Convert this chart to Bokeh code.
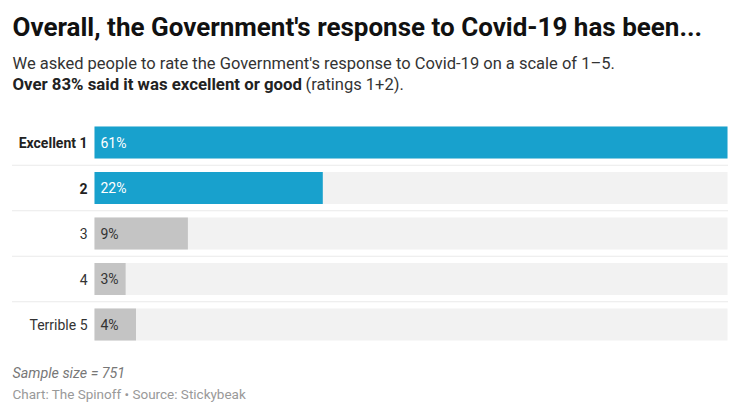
from bokeh.plotting import figure
from bokeh.models import Range1d, ColumnDataSource
from bokeh.core.properties import value
from bokeh.embed import file_html
from bokeh.resources import INLINE

# ---- data ----
categories = ["Excellent 1", "2", "3", "4", "Terrible 5"]
percent = [61, 22, 9, 3, 4]
highlight = [True, True, False, False, False]
title = "Overall, the Government's response to Covid-19 has been..."
subtitle1 = "We asked people to rate the Government's response to Covid-19 on a scale of 1\u20135."
subtitle2_bold = "Over 83% said it was excellent or good"
subtitle2_rest = "(ratings 1+2)."
note = "Sample size = 751"
credit = "Chart: The Spinoff \u2022 Source: Stickybeak"

# ---- layout ----
W, H = 740, 414
left_px, right_px = 94, 727          # bar zero / full-scale positions
row0_px, row_step = 142, 45.5        # first row centre, row spacing
vmax = max(percent)
sx = (right_px - left_px) / vmax
x0 = -left_px / sx
x1 = vmax + (W - right_px) / sx
y_top = 1 - row0_px / row_step
y_bot = 1 + (H - row0_px) / row_step

p = figure(width=W, height=H, output_backend="svg", toolbar_location=None,
           x_range=Range1d(x0, x1), y_range=Range1d(y_bot, y_top),
           min_border=0, outline_line_color=None)
p.axis.visible = False
p.grid.visible = False
p.background_fill_color = "white"
p.border_fill_color = "white"

n = len(categories)
rows = list(range(1, n + 1))
src = ColumnDataSource(dict(
    y=rows, v=percent, cat=categories,
    lab=[f"{v}%" for v in percent],
    color=["#18A1CD" if h else "#C4C4C4" for h in highlight],
    tcolor=["white" if h else "#333333" for h in highlight],
    lcolor=["#222222" if h else "#333333" for h in highlight],
    lstyle=["bold" if h else "normal" for h in highlight],
    full=[vmax] * n,
))

# background tracks
p.hbar(y="y", left=0, right="full", height=0.70, source=src,
       fill_color="#F2F2F2", line_color=None)
# bars
p.hbar(y="y", left=0, right="v", height=0.70, source=src,
       fill_color="color", line_color=None)

# separators
seps = [r + 0.5 for r in rows[:-1]]
p.segment(x0=[x0 + 12 / sx] * len(seps), x1=[vmax] * len(seps), y0=seps, y1=seps,
          line_color="#D4D4D4", line_width=1, line_dash="1 1")

# value labels
p.text(x=0, y="y", text="lab", source=src, x_offset=6,
       text_font=value("Roboto"), text_font_size="14px",
       text_color="tcolor", text_baseline="middle", text_align="left")

# category labels
p.text(x=0, y="y", text="cat", source=src, x_offset=-7,
       text_font=value("Roboto"), text_font_size="14px",
       text_color="lcolor", text_font_style="lstyle",
       text_baseline="middle", text_align="right")

# titles and footer (anchored to top-left / bottom-left corner of the canvas)
def corner_text(txt, ox, oy, size, color, style="normal", anchor="top"):
    yy = y_top if anchor == "top" else y_bot
    p.text(x=[x0], y=[yy], text=[txt], x_offset=ox, y_offset=oy,
           text_font=value("Roboto"), text_font_size=size,
           text_color=color, text_font_style=style,
           text_baseline="middle", text_align="left")

corner_text(title, 12, 26, "26px", "#111111", "bold")
corner_text(subtitle1, 12, 63, "16.5px", "#333333")
corner_text(subtitle2_bold, 12, 83.5, "16.8px", "#222222", "bold")
corner_text(subtitle2_rest, 305, 83.5, "16.5px", "#333333")
corner_text(note, 12, -41.5, "14.3px", "#777777", "italic", anchor="bottom")
corner_text(credit, 12, -21, "13.5px", "#999999", anchor="bottom")

open("out.html", "w").write(file_html(p, INLINE))
